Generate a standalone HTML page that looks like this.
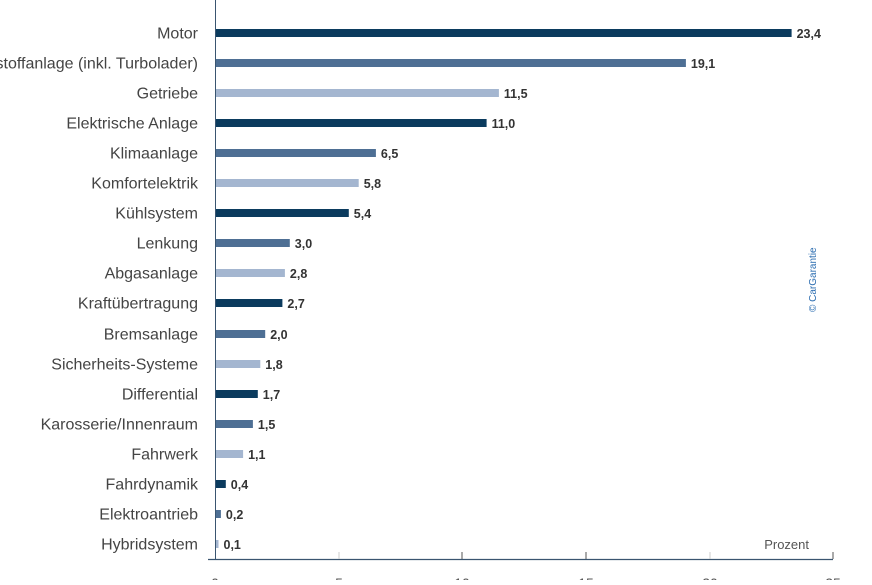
<!DOCTYPE html>
<html><head><meta charset="utf-8"><style>
body{margin:0;background:#fff;width:872px;height:580px;overflow:hidden;}
.l{font-size:16px;fill:#444;text-anchor:end}
.v{font-size:12.5px;font-weight:bold;fill:#333}
</style></head><body>
<svg width="872" height="580" xmlns="http://www.w3.org/2000/svg" font-family="Liberation Sans Narrow, Liberation Sans, sans-serif">
<g transform="translate(0,33)"><text class="l" x="198" y="5.5">Motor</text><rect x="216" y="-4" width="575.6" height="8" fill="#0b3b5e"/><text class="v" x="796.6" y="5">23,4</text></g>
<g transform="translate(0,63)"><text class="l" x="198" y="5.5">Kraftstoffanlage (inkl. Turbolader)</text><rect x="216" y="-4" width="469.9" height="8" fill="#4e6f94"/><text class="v" x="690.9" y="5">19,1</text></g>
<g transform="translate(0,93)"><text class="l" x="198" y="5.5">Getriebe</text><rect x="216" y="-4" width="282.9" height="8" fill="#a4b6d0"/><text class="v" x="503.9" y="5">11,5</text></g>
<g transform="translate(0,123)"><text class="l" x="198" y="5.5">Elektrische Anlage</text><rect x="216" y="-4" width="270.6" height="8" fill="#0b3b5e"/><text class="v" x="491.6" y="5">11,0</text></g>
<g transform="translate(0,153)"><text class="l" x="198" y="5.5">Klimaanlage</text><rect x="216" y="-4" width="159.9" height="8" fill="#4e6f94"/><text class="v" x="380.9" y="5">6,5</text></g>
<g transform="translate(0,183)"><text class="l" x="198" y="5.5">Komfortelektrik</text><rect x="216" y="-4" width="142.7" height="8" fill="#a4b6d0"/><text class="v" x="363.7" y="5">5,8</text></g>
<g transform="translate(0,213)"><text class="l" x="198" y="5.5">Kühlsystem</text><rect x="216" y="-4" width="132.8" height="8" fill="#0b3b5e"/><text class="v" x="353.8" y="5">5,4</text></g>
<g transform="translate(0,243)"><text class="l" x="198" y="5.5">Lenkung</text><rect x="216" y="-4" width="73.8" height="8" fill="#4e6f94"/><text class="v" x="294.8" y="5">3,0</text></g>
<g transform="translate(0,273)"><text class="l" x="198" y="5.5">Abgasanlage</text><rect x="216" y="-4" width="68.9" height="8" fill="#a4b6d0"/><text class="v" x="289.9" y="5">2,8</text></g>
<g transform="translate(0,303)"><text class="l" x="198" y="5.5">Kraftübertragung</text><rect x="216" y="-4" width="66.4" height="8" fill="#0b3b5e"/><text class="v" x="287.4" y="5">2,7</text></g>
<g transform="translate(0,334)"><text class="l" x="198" y="5.5">Bremsanlage</text><rect x="216" y="-4" width="49.2" height="8" fill="#4e6f94"/><text class="v" x="270.2" y="5">2,0</text></g>
<g transform="translate(0,364)"><text class="l" x="198" y="5.5">Sicherheits-Systeme</text><rect x="216" y="-4" width="44.3" height="8" fill="#a4b6d0"/><text class="v" x="265.3" y="5">1,8</text></g>
<g transform="translate(0,394)"><text class="l" x="198" y="5.5">Differential</text><rect x="216" y="-4" width="41.8" height="8" fill="#0b3b5e"/><text class="v" x="262.8" y="5">1,7</text></g>
<g transform="translate(0,424)"><text class="l" x="198" y="5.5">Karosserie/Innenraum</text><rect x="216" y="-4" width="36.9" height="8" fill="#4e6f94"/><text class="v" x="257.9" y="5">1,5</text></g>
<g transform="translate(0,454)"><text class="l" x="198" y="5.5">Fahrwerk</text><rect x="216" y="-4" width="27.1" height="8" fill="#a4b6d0"/><text class="v" x="248.1" y="5">1,1</text></g>
<g transform="translate(0,484)"><text class="l" x="198" y="5.5">Fahrdynamik</text><rect x="216" y="-4" width="9.8" height="8" fill="#0b3b5e"/><text class="v" x="230.8" y="5">0,4</text></g>
<g transform="translate(0,514)"><text class="l" x="198" y="5.5">Elektroantrieb</text><rect x="216" y="-4" width="4.9" height="8" fill="#4e6f94"/><text class="v" x="225.9" y="5">0,2</text></g>
<g transform="translate(0,544)"><text class="l" x="198" y="5.5">Hybridsystem</text><rect x="216" y="-4" width="2.5" height="8" fill="#a4b6d0"/><text class="v" x="223.5" y="5">0,1</text></g>
<line x1="215.5" y1="0" x2="215.5" y2="559" stroke="#3a5570" stroke-width="1"/>
<line x1="208" y1="559.5" x2="833" y2="559.5" stroke="#3a5570" stroke-width="1.2"/>
<g stroke-width="1">
<line x1="339" y1="552" x2="339" y2="559" stroke="#ccc"/>
<line x1="462" y1="552" x2="462" y2="559" stroke="#555"/>
<line x1="586" y1="552" x2="586" y2="559" stroke="#555"/>
<line x1="710" y1="552" x2="710" y2="559" stroke="#ccc"/>
<line x1="833" y1="552" x2="833" y2="559" stroke="#555"/>
</g>
<g font-size="14" fill="#555" text-anchor="middle">
<text x="215" y="588">0</text><text x="339" y="588">5</text><text x="462" y="588">10</text><text x="586" y="588">15</text><text x="710" y="588">20</text><text x="833" y="588">25</text>
</g>
<text x="809" y="549" font-size="13" fill="#555" text-anchor="end">Prozent</text>
<text transform="translate(816,312) rotate(-90)" font-size="10" fill="#2a6cb0">© CarGarantie</text>
</svg>
</body></html>
